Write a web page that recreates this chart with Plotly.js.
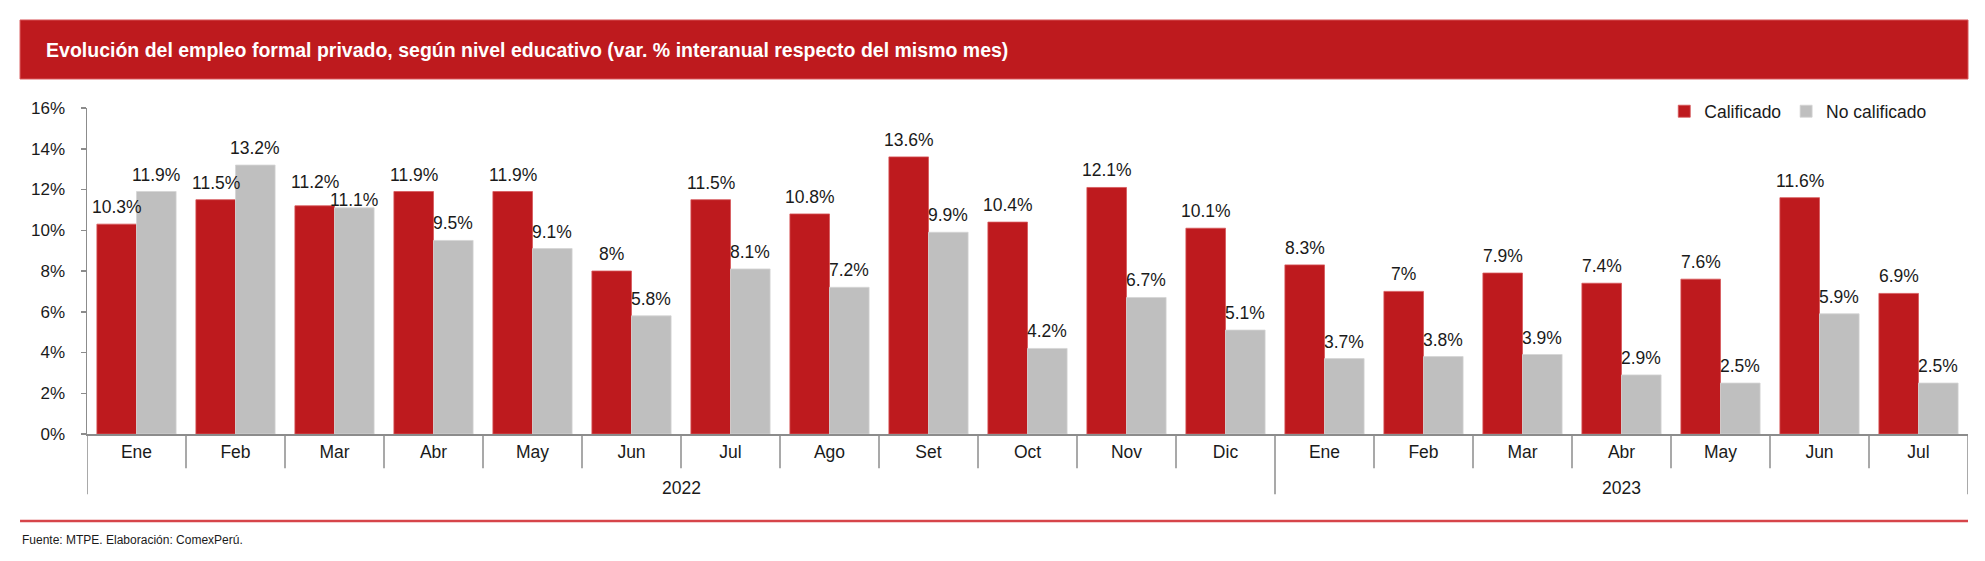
<!DOCTYPE html>
<html>
<head>
<meta charset="utf-8">
<script src="https://cdn.plot.ly/plotly-3.0.1.min.js"></script>
<style>
  html, body { margin: 0; padding: 0; background: #ffffff; }
  #chart { width: 1985px; height: 561px; }
</style>
</head>
<body>
<div id="chart"></div>
<script>
// ---- Data ----
const months = ['Ene','Feb','Mar','Abr','May','Jun','Jul','Ago','Set','Oct','Nov','Dic',
                'Ene','Feb','Mar','Abr','May','Jun','Jul'];
const years = ['2022','2022','2022','2022','2022','2022','2022','2022','2022','2022','2022','2022',
               '2023','2023','2023','2023','2023','2023','2023'];
const calificado = [10.3, 11.5, 11.2, 11.9, 11.9, 8, 11.5, 10.8, 13.6, 10.4, 12.1, 10.1,
                    8.3, 7, 7.9, 7.4, 7.6, 11.6, 6.9];
const noCalificado = [11.9, 13.2, 11.1, 9.5, 9.1, 5.8, 8.1, 7.2, 9.9, 4.2, 6.7, 5.1,
                      3.7, 3.8, 3.9, 2.9, 2.5, 5.9, 2.5];
const seriesNames = ['Calificado', 'No calificado'];
const yTicks = [0, 2, 4, 6, 8, 10, 12, 14, 16];
const titleText = 'Evolución del empleo formal privado, según nivel educativo (var. % interanual respecto del mismo mes)';
const sourceText = 'Fuente: MTPE. Elaboración: ComexPerú.';

// ---- Styles ----
const RED = '#BE1A1E';
const GRAY = '#BFBFBF';
const AXIS = '#8C8C8C';
const TXT = '#1a1a1a';
const FONT = 'Arial, "Liberation Sans", sans-serif';
// extra label offsets (px) where the original labels were nudged to avoid collisions
const labelNudge = { calificado: { 2: 7 }, noCalificado: { 2: -9 } };

const idx = months.map((_, i) => i);
const fmt = v => String(v) + '%';

const traces = [
  { type: 'bar', name: seriesNames[0], x: idx, y: calificado,
    marker: { color: RED, line: { width: 0.8, color: '#D7585B' } }, hoverinfo: 'skip' },
  { type: 'bar', name: seriesNames[1], x: idx, y: noCalificado,
    marker: { color: GRAY, line: { width: 0.8, color: '#D4D4D4' } }, hoverinfo: 'skip' }
];

// value labels
const annotations = [];
const half = 0.2; // half of a bar slot within group (bargap 0.2 -> 0.8 / 2 bars)
function addLabels(vals, dx, nudge) {
  vals.forEach((v, i) => annotations.push({
    x: i + dx, y: v, xref: 'x', yref: 'y', text: fmt(v), showarrow: false,
    yanchor: 'bottom', yshift: 6 + (nudge[i] || 0), borderpad: 0,
    font: { family: FONT, size: 17.5, color: TXT }
  }));
}
addLabels(calificado, -half, labelNudge.calificado);
addLabels(noCalificado, half, labelNudge.noCalificado);

// year labels
const uniqYears = [...new Set(years)];
uniqYears.forEach(yr => {
  const ids = idx.filter(i => years[i] === yr);
  const mid = (ids[0] + ids[ids.length - 1]) / 2;
  annotations.push({ x: mid, y: -0.165, xref: 'x', yref: 'paper', text: yr, showarrow: false,
    yanchor: 'middle', font: { family: FONT, size: 17.5, color: TXT } });
});

// source
annotations.push({ x: -0.0356, y: -0.325, xref: 'paper', yref: 'paper', text: sourceText,
  showarrow: false, xanchor: 'left', yanchor: 'middle', font: { family: FONT, size: 12, color: TXT } });

// shapes: header bar, dividers, footer line
const shapes = [];
shapes.push({ type: 'rect', xref: 'paper', yref: 'paper', x0: -0.0356, x1: 1.0, y0: 1.089, y1: 1.27,
  fillcolor: RED, line: { color: '#D9585B', width: 1 }, layer: 'below' });

for (let b = -1; b < months.length; b++) {
  const xpos = b + 0.5;
  const longDiv = (b === -1) || (b === months.length - 1) || (years[b] !== years[b + 1]);
  shapes.push({ type: 'line', xref: 'x', yref: 'paper', x0: xpos, x1: xpos, y0: 0,
    y1: longDiv ? -0.185 : -0.105, line: { color: AXIS, width: 1.5 } });
}
shapes.push({ type: 'line', xref: 'paper', yref: 'paper', x0: -0.0356, x1: 1.0, y0: -0.267, y1: -0.267,
  line: { color: '#D6454A', width: 2.5 } });

const layout = {
  width: 1985, height: 561,
  margin: { l: 87, r: 17, t: 108, b: 127, pad: 0 },
  paper_bgcolor: '#ffffff', plot_bgcolor: '#ffffff',
  font: { family: FONT, size: 17, color: TXT },
  title: { text: '<b>' + titleText + '</b>', x: 0.0232, xanchor: 'left', xref: 'container',
    y: 0.911, yanchor: 'middle', yref: 'container',
    font: { family: FONT, size: 19.5, color: '#ffffff' } },
  barmode: 'group', bargap: 0.2, bargroupgap: 0,
  showlegend: true,
  legend: { orientation: 'h', x: 0.981, xanchor: 'right', y: 1.045, yanchor: 'top',
    font: { family: FONT, size: 17.5, color: TXT }, bgcolor: 'rgba(0,0,0,0)', itemwidth: 30 },
  xaxis: { range: [-0.5, months.length - 0.5], tickmode: 'array', tickvals: idx, ticktext: months,
    ticks: '', showgrid: false, zeroline: false, showline: true, linecolor: AXIS, linewidth: 2,
    tickfont: { family: FONT, size: 17.5, color: TXT }, ticklabelstandoff: 1, fixedrange: true },
  yaxis: { range: [0, 16], tickmode: 'array', tickvals: yTicks, ticktext: yTicks.map(fmt),
    ticks: 'outside', ticklen: 5, tickcolor: AXIS, tickwidth: 1.5, showgrid: false, zeroline: false,
    showline: true, linecolor: AXIS, linewidth: 1.5, ticklabelstandoff: 12,
    tickfont: { family: FONT, size: 17, color: TXT }, fixedrange: true },
  annotations: annotations,
  shapes: shapes
};

Plotly.newPlot('chart', traces, layout, { displayModeBar: false, staticPlot: true });
</script>
</body>
</html>
